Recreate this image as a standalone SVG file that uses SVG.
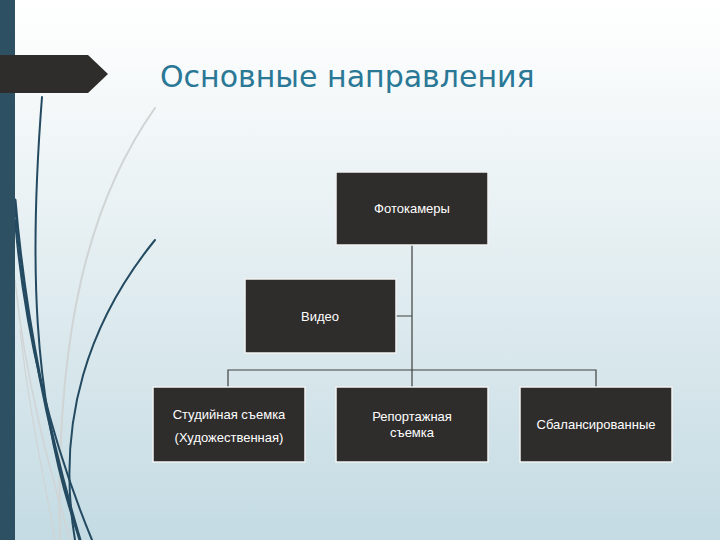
<svg xmlns="http://www.w3.org/2000/svg" width="720" height="540" viewBox="0 0 720 540">
<defs>
<linearGradient id="bg" x1="0" y1="0" x2="0" y2="1">
<stop offset="0" stop-color="#ffffff"/><stop offset="0.2" stop-color="#f4f8f9"/><stop offset="1" stop-color="#c4dbe3"/>
</linearGradient>
<style>
.box{fill:#2f2d2c;stroke:#f2f2f2;stroke-width:1.5}
.t{font-family:"Liberation Sans",Arial,sans-serif;font-size:13px;fill:#ffffff;text-anchor:middle}
.c{fill:none;stroke:#404040;stroke-width:1.2}
.d{fill:none;stroke:#234a60;stroke-linecap:round}
.l{fill:none;stroke:#d0d4d4;stroke-linecap:round}
</style>
</defs>
<rect width="720" height="540" fill="url(#bg)"/>
<g id="decor">
<path class="l" d="M155 108 C90 200 55 330 60 540" stroke-width="2"/>
<path class="l" d="M15 280 C25 380 50 470 70 540" stroke-width="1.5"/>
<path class="l" d="M20 330 C30 420 45 480 55 540" stroke-width="1.2"/>
<path class="d" d="M42 97 C30 250 30 400 80 540" stroke-width="2"/>
<path class="d" d="M15 200 C25 320 50 440 80 540" stroke-width="3"/>
<path class="d" d="M15 220 C25 340 55 450 92 540" stroke-width="2"/>
<path class="d" d="M155 240 C90 320 55 420 75 540" stroke-width="2"/>
<rect x="0" y="0" width="15" height="540" fill="#2d5063"/>
<polygon points="0,55 88,55 108,74 88,93 0,93" fill="#2f2d2c"/>
</g>
<text x="160" y="87" font-family="'DejaVu Sans',sans-serif" font-size="30" fill="#2a7896">Основные направления</text>
<g id="connectors">
<path class="c" d="M412 245 V387 M396 316 H412 M228 387 V370 H596 V387"/>
</g>
<g id="n1"><rect class="box" x="336" y="172" width="152" height="73"/><text class="t" x="412" y="213">Фотокамеры</text></g>
<g id="n2"><rect class="box" x="245" y="279" width="151" height="74"/><text class="t" x="320" y="321">Видео</text></g>
<g id="n3"><rect class="box" x="153" y="387" width="152" height="75"/><text class="t" x="229" y="419">Студийная съемка</text><text class="t" x="229" y="442">(Художественная)</text></g>
<g id="n4"><rect class="box" x="336" y="387" width="152" height="75"/><text class="t" x="412" y="421">Репортажная</text><text class="t" x="412" y="437">съемка</text></g>
<g id="n5"><rect class="box" x="520" y="387" width="152" height="75"/><text class="t" x="596" y="429">Сбалансированные</text></g>
</svg>
